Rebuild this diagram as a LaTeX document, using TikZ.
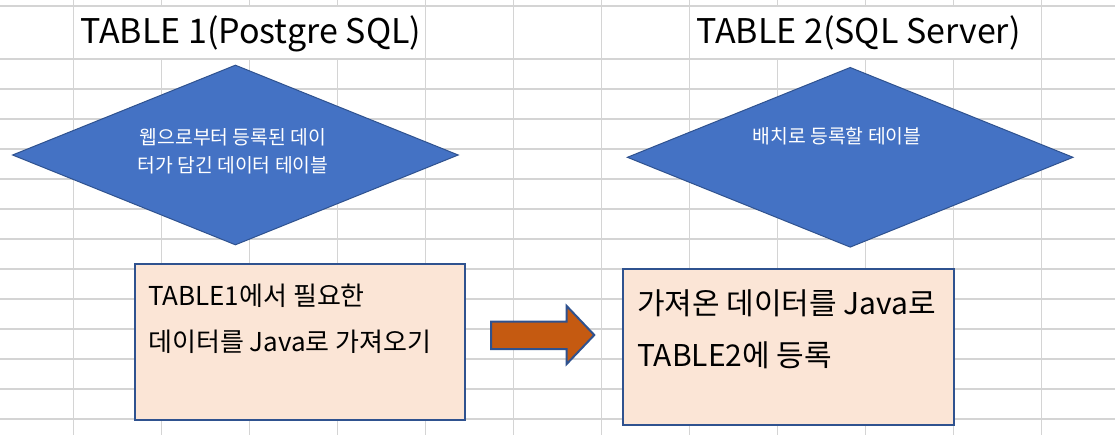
\documentclass[tikz,border=0pt]{standalone}
\usepackage{fontspec}
\newfontfamily\krfont{Noto Sans CJK KR}
\newfontfamily\jpfont{Noto Sans CJK JP}
\usetikzlibrary{shapes.geometric}

\begin{document}
\begin{tikzpicture}[x=0.75pt, y=-0.75pt,
    tabletitle/.style={anchor=base west, inner sep=0pt, font=\jpfont\fontsize{25.5}{30}\selectfont},
    tableshape/.style={diamond, aspect=2.48, draw=borderColour, line width=0.75pt, fill=diamondColour,
        minimum width=334.5pt, minimum height=135pt, inner sep=0pt},
    shapetext/.style={align=center, inner sep=0pt, text=white, font=\krfont\fontsize{14.5}{21}\selectfont},
    taskbox/.style={rectangle, draw=borderColour, line width=1.5pt, fill=boxColour,
        minimum width=248pt, minimum height=117pt, inner sep=0pt},
    tasktext/.style={anchor=west, align=left, inner sep=0pt},
    blockarrow/.style={draw=borderColour, line width=1.5pt, fill=arrowColour, line join=miter}]
    % Define colours
    \definecolor{gridColour}{HTML}{D4D4D4}
    \definecolor{borderColour}{HTML}{2F528F}
    \definecolor{diamondColour}{HTML}{4472C4}
    \definecolor{boxColour}{HTML}{FBE5D6}
    \definecolor{arrowColour}{HTML}{C55A11}

    % Define sheet size
    \def\sheetW{1115}
    \def\sheetH{435}
    \useasboundingbox (0,0) rectangle (\sheetW,\sheetH);
    \fill[white] (0,0) rectangle (\sheetW,\sheetH);

    % Draw spreadsheet grid
    \foreach \y in {6,59,89,...,419}
        \draw[gridColour, line width=0.9pt] (0,\y) -- (\sheetW,\y);
    \foreach \k in {0,4,5,6,7,11}
        \draw[gridColour, line width=0.9pt] (73.8+87.95*\k,0) -- (73.8+87.95*\k,\sheetH);
    % Columns hidden behind the titles
    \foreach \k in {1,2,3,8,9,10} {
        \draw[gridColour, line width=0.9pt] (73.8+87.95*\k,0) -- (73.8+87.95*\k,6);
        \draw[gridColour, line width=0.9pt] (73.8+87.95*\k,59) -- (73.8+87.95*\k,\sheetH);
    }

    % Table titles
    \node[tabletitle] (title1) at (80,43.3) {TABLE 1(Postgre SQL)};
    \node[tabletitle] (title2) at (696,43.3) {TABLE 2(SQL Server)};

    % Tables as diamonds
    \node[tableshape] (table1) at (235.4,155) {};
    \node[tableshape] (table2) at (850.2,157.3) {};
    \node[shapetext] (table1text) at (233,151) {웹으로부터 등록된 데이\\터가 담긴 데이터 테이블};
    \node[shapetext] (table2text) at (837,136) {배치로 등록할 테이블};

    % Task boxes
    \node[taskbox] (fetch) at (300,341.9) {};
    \node[taskbox] (store) at (788.8,346.9) {};
    \node[tasktext, font=\krfont\fontsize{19.5}{34.3}\selectfont] (fetchtext) at (148,319)
        {TABLE1에서 필요한\\데이터를 Java로 가져오기};
    \node[tasktext, font=\krfont\fontsize{22.5}{39}\selectfont] (storetext) at (637,329)
        {가져온 데이터를 Java로\\TABLE2에 등록};

    % Block arrow between the tasks
    \coordinate (moveTail) at (491,335);
    \coordinate (moveTip) at (594.3,335);
    \draw[blockarrow] (491,321.7) -- (566.7,321.7) -- (566.7,306) -- (moveTip)
        -- (566.7,364) -- (566.7,349) -- (491,349) -- cycle;

\end{tikzpicture}
\end{document}
